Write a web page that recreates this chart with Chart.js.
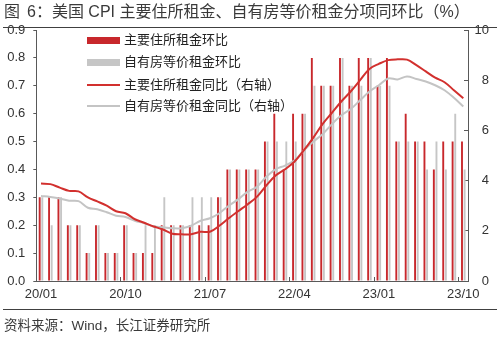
<!DOCTYPE html>
<html>
<head>
<meta charset="utf-8">
<script src="https://cdn.jsdelivr.net/npm/chart.js@4.4.0/dist/chart.umd.min.js"></script>
<style>
  html, body { margin: 0; padding: 0; background: #fff; }
  #wrap { position: relative; width: 500px; height: 339px; overflow: hidden;
          font-family: "Liberation Sans", "Noto Sans CJK SC", sans-serif; color: #333; }
  #title { position: absolute; left: 4px; top: 1px; font-size: 16px; line-height: 22px; white-space: nowrap; color: #3a3a3a; }
  #title .gap { display: inline-block; width: 7px; }
  .rule { position: absolute; left: 3px; width: 494px; height: 1px; background: #404040; }
  #source { position: absolute; left: 4px; top: 317px; font-size: 13.5px; line-height: 18px; white-space: nowrap; color: #3a3a3a; }
  #legend { position: absolute; left: 87px; top: 0; font-size: 13px; }
  .row { position: absolute; left: 0; height: 20px; white-space: nowrap; }
  .sw { position: absolute; left: 0; width: 33px; }
  .lab { position: absolute; left: 37px; top: 0; line-height: 20px; color: #222; }
  canvas { position: absolute; left: 0; top: 0; }
</style>
</head>
<body>
<div id="wrap">
  <canvas id="c" width="500" height="339"></canvas>
  <div id="title">图<span class="gap"></span>6：美国 CPI 主要住所租金、自有房等价租金分项同环比（%）</div>
  <div class="rule" style="top:27px"></div>
  <div id="legend"></div>
  <div class="rule" style="top:309px"></div>
  <div id="source">资料来源：Wind，长江证券研究所</div>
</div>
<script>
// Months, 2020/01 – 2023/10
const months = [
  '20/01','20/02','20/03','20/04','20/05','20/06','20/07','20/08','20/09','20/10','20/11','20/12',
  '21/01','21/02','21/03','21/04','21/05','21/06','21/07','21/08','21/09','21/10','21/11','21/12',
  '22/01','22/02','22/03','22/04','22/05','22/06','22/07','22/08','22/09','22/10','22/11','22/12',
  '23/01','23/02','23/03','23/04','23/05','23/06','23/07','23/08','23/09','23/10'
];

// Rent of primary residence, MoM (%), left axis
const rentMoM = [
  0.3,0.3,0.3,0.2,0.2,0.1,0.2,0.1,0.1,0.2,0.1,0.1,
  0.1,0.2,0.2,0.2,0.2,0.2,0.2,0.3,0.4,0.4,0.4,0.4,
  0.5,0.6,0.4,0.6,0.6,0.8,0.7,0.7,0.8,0.7,0.8,0.8,
  0.7,0.8,0.5,0.6,0.5,0.5,0.4,0.5,0.5,0.5
];

// Owners' equivalent rent, MoM (%), left axis
const oerMoM = [
  0.3,0.2,0.3,0.2,0.2,0.1,0.2,0.1,0.1,0.2,0.1,0.2,
  0.2,0.3,0.2,0.2,0.3,0.3,0.3,0.3,0.4,0.4,0.4,0.4,
  0.5,0.5,0.5,0.5,0.6,0.7,0.7,0.7,0.8,0.7,0.7,0.8,
  0.7,0.7,0.5,0.5,0.5,0.4,0.5,0.4,0.6,0.4
];

// Rent of primary residence, YoY (%), right axis
const rentYoY = [
  3.88,3.86,3.72,3.59,3.57,3.33,3.17,3.00,2.78,2.70,2.46,2.32,
  2.17,2.05,1.88,1.86,1.86,1.96,1.96,2.20,2.50,2.78,3.05,3.35,
  3.80,4.20,4.45,4.75,5.20,5.70,6.25,6.70,7.15,7.55,8.00,8.45,
  8.65,8.80,8.83,8.82,8.60,8.35,8.10,7.92,7.60,7.28
];

// Owners' equivalent rent, YoY (%), right axis
const oerYoY = [
  3.39,3.35,3.29,3.20,3.18,2.92,2.86,2.74,2.60,2.55,2.40,2.30,
  2.17,2.14,2.10,2.10,2.20,2.40,2.50,2.70,3.00,3.25,3.55,3.75,
  4.15,4.45,4.60,4.80,5.20,5.55,5.85,6.25,6.60,6.85,7.20,7.55,
  7.80,8.07,8.03,8.15,8.05,7.95,7.80,7.60,7.30,6.95
];

const leftTicks = [0, 0.1, 0.2, 0.3, 0.4, 0.5, 0.6, 0.7, 0.8, 0.9];
const rightTicks = [0, 2, 4, 6, 8, 10];

const RED_BAR = '#C8282C';
const GRAY_BAR = '#C6C6C6';
const RED_LINE = '#D2302E';
const GRAY_LINE = '#C4C4C4';
const AXIS = '#595959';
const TICK_FONT = { family: "'Liberation Sans', Arial, sans-serif", size: 13 };

const chart = new Chart(document.getElementById('c'), {
  data: {
    labels: months,
    datasets: [
      { type: 'line', label: '主要住所租金同比（右轴）', data: rentYoY, yAxisID: 'y1',
        borderColor: RED_LINE, borderWidth: 2, pointRadius: 0, tension: 0.35, order: 0 },
      { type: 'line', label: '自有房等价租金同比（右轴）', data: oerYoY, yAxisID: 'y1',
        borderColor: GRAY_LINE, borderWidth: 2, pointRadius: 0, tension: 0.35, order: 1 },
      { type: 'bar', label: '主要住所租金环比', data: rentMoM, yAxisID: 'y',
        backgroundColor: RED_BAR, categoryPercentage: 0.56, barPercentage: 0.72, order: 2 },
      { type: 'bar', label: '自有房等价租金环比', data: oerMoM, yAxisID: 'y',
        backgroundColor: GRAY_BAR, categoryPercentage: 0.56, barPercentage: 0.72, order: 3 }
    ]
  },
  options: {
    responsive: false,
    animation: false,
    devicePixelRatio: 1,
    layout: { padding: { left: 0, right: 11, top: 30, bottom: 38 } },
    plugins: { legend: { display: false }, tooltip: { enabled: false } },
    scales: {
      x: {
        offset: true,
        grid: {
          offset: true, drawOnChartArea: false, drawTicks: true, tickLength: -4, lineWidth: 1,
          color: c => (c.index % 9 === 0 ? AXIS : 'rgba(0,0,0,0)')
        },
        border: { display: true, color: AXIS, width: 1 },
        ticks: {
          autoSkip: false, maxRotation: 0, minRotation: 0, padding: 10,
          font: TICK_FONT, color: '#333',
          callback: (v, i) => (i % 9 === 0 ? months[i] : '')
        },
        afterFit: s => { s.height = 20; }
      },
      y: {
        position: 'left', min: 0, max: 0.9,
        afterBuildTicks: s => { s.ticks = leftTicks.map(v => ({ value: v })); },
        grid: { drawOnChartArea: false, drawTicks: true, tickLength: 3, color: AXIS },
        border: { display: true, color: AXIS, width: 1 },
        ticks: { padding: 8, font: TICK_FONT, color: '#333', callback: v => Number(v).toFixed(1) },
        afterFit: s => { s.width = 36.3; }
      },
      y1: {
        position: 'right', min: 0, max: 10,
        afterBuildTicks: s => { s.ticks = rightTicks.map(v => ({ value: v })); },
        grid: { drawOnChartArea: false, drawTicks: true, tickLength: -4, color: AXIS },
        border: { display: true, color: AXIS, width: 1 },
        ticks: { padding: 8, crossAlign: 'far', font: TICK_FONT, color: '#333' },
        afterFit: s => { s.width = 21; }
      }
    }
  }
});

// Legend: bars first, then lines, built from the chart's datasets
const legendOrder = [2, 3, 0, 1];
const rowCenters = [40, 62, 85, 106];
const legend = document.getElementById('legend');
legendOrder.forEach((di, k) => {
  const ds = chart.data.datasets[di];
  const row = document.createElement('div');
  row.className = 'row';
  row.style.top = (rowCenters[k] - 10) + 'px';
  const sw = document.createElement('div');
  sw.className = 'sw';
  const h = ds.type === 'bar' ? 7 : 2;
  sw.style.height = h + 'px';
  sw.style.top = (10 - h / 2) + 'px';
  sw.style.background = ds.type === 'bar' ? ds.backgroundColor : ds.borderColor;
  const lab = document.createElement('div');
  lab.className = 'lab';
  lab.textContent = ds.label;
  row.appendChild(sw);
  row.appendChild(lab);
  legend.appendChild(row);
});
</script>
</body>
</html>
